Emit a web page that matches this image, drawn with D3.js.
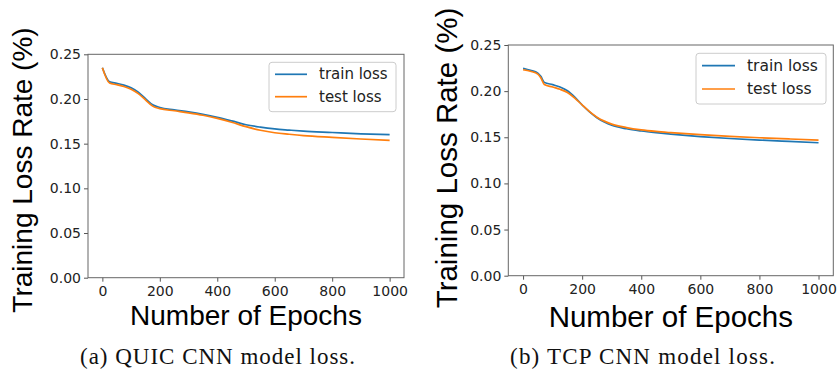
<!DOCTYPE html>
<html>
<head>
<meta charset="utf-8">
<script src="https://cdn.jsdelivr.net/npm/d3@7"></script>
<style>
  html, body { margin: 0; padding: 0; background: #fff; }
  svg { display: block; }
</style>
</head>
<body>
<svg id="chart" width="838" height="372"></svg>
<script>
// ---------- DATA ----------
const yTicks = [0, 0.05, 0.10, 0.15, 0.20, 0.25];
const xTicks = [0, 200, 400, 600, 800, 1000];
const seriesNames = ["train loss", "test loss"];

const quicEpochs = [0, 25, 50, 75, 100, 125, 150, 175, 200, 250, 300, 350, 400, 450, 500, 550, 600, 650, 700, 800, 900, 1000];
const quicTrain  = [0.2350, 0.2193, 0.2175, 0.2155, 0.2125, 0.2075, 0.2005, 0.1935, 0.1905, 0.1878, 0.1855, 0.1828, 0.1795, 0.1755, 0.1712, 0.1685, 0.1665, 0.1652, 0.1640, 0.1625, 0.1610, 0.1600];
const quicTest   = [0.2350, 0.2178, 0.2160, 0.2140, 0.2110, 0.2060, 0.1990, 0.1920, 0.1892, 0.1868, 0.1845, 0.1818, 0.1783, 0.1740, 0.1690, 0.1650, 0.1622, 0.1605, 0.1590, 0.1570, 0.1552, 0.1537];

const tcpEpochs = [0, 25, 50, 60, 72, 100, 125, 150, 175, 200, 225, 250, 275, 300, 350, 400, 450, 500, 600, 700, 800, 900, 1000];
const tcpTrain  = [0.2247, 0.2225, 0.2195, 0.2160, 0.2095, 0.2070, 0.2045, 0.2005, 0.1935, 0.1850, 0.1775, 0.1712, 0.1665, 0.1630, 0.1592, 0.1568, 0.1550, 0.1535, 0.1508, 0.1487, 0.1470, 0.1455, 0.1441];
const tcpTest   = [0.2232, 0.2215, 0.2185, 0.2145, 0.2072, 0.2045, 0.2020, 0.1985, 0.1925, 0.1850, 0.1778, 0.1718, 0.1675, 0.1643, 0.1605, 0.1580, 0.1563, 0.1550, 0.1528, 0.1510, 0.1495, 0.1482, 0.1470];

const captions = ["(a) QUIC CNN model loss.", "(b) TCP CNN model loss."];
const yTitle = "Training Loss Rate (%)";
const xTitle = "Number of Epochs";

// ---------- DRAW ----------
const colors = ["#1f77b4", "#ff7f0e"];
const svg = d3.select("#chart");

function drawPanel(p) {
  const x = d3.scaleLinear().domain([-50, 1050]).range([p.left, p.right]);
  const y = d3.scaleLinear().domain([0, 0.25]).range([p.bottom, p.top]);
  const g = svg.append("g");

  // lines
  const line = d3.line()
    .x(d => x(d[0])).y(d => y(d[1]))
    .curve(d3.curveMonotoneX);
  [p.train, p.test].forEach((vals, i) => {
    g.append("path")
      .datum(p.epochs.map((e, j) => [e, vals[j]]))
      .attr("fill", "none")
      .attr("stroke", colors[i])
      .attr("stroke-width", 1.7)
      .attr("d", line);
  });

  // axes
  const yAxis = g.append("g").attr("transform", `translate(${p.left},0)`)
    .call(d3.axisLeft(y).tickValues(yTicks).tickFormat(d3.format(".2f")).tickSize(4).tickPadding(3));
  const xAxis = g.append("g").attr("transform", `translate(0,${p.bottom})`)
    .call(d3.axisBottom(x).tickValues(xTicks).tickFormat(d3.format("d")).tickSize(4).tickPadding(4));
  [yAxis, xAxis].forEach(a => {
    a.select(".domain").remove();
    a.selectAll("line").attr("stroke", "#555");
    a.selectAll("text").attr("fill", "#222")
      .style("font-family", "'DejaVu Sans', sans-serif").style("font-size", "14px");
  });

  // frame
  g.append("rect")
    .attr("x", p.left).attr("y", p.top)
    .attr("width", p.right - p.left).attr("height", p.bottom - p.top)
    .attr("fill", "none").attr("stroke", "#666").attr("stroke-width", 1);

  // legend
  const lg = g.append("g");
  lg.append("rect")
    .attr("x", p.lgX).attr("y", p.lgY).attr("width", p.lgW).attr("height", p.lgH)
    .attr("rx", 3).attr("fill", "#fff").attr("fill-opacity", 0.8)
    .attr("stroke", "#cccccc").attr("stroke-width", 1);
  seriesNames.forEach((name, i) => {
    const yy = p.lgY + p.rowOff + i * p.rowGap;
    lg.append("line")
      .attr("x1", p.lgX + 6).attr("x2", p.lgX + 6 + p.lineLen)
      .attr("y1", yy).attr("y2", yy)
      .attr("stroke", colors[i]).attr("stroke-width", 1.7);
    lg.append("text")
      .attr("x", p.lgX + p.textOff).attr("y", yy)
      .attr("dominant-baseline", "central")
      .style("font-family", "'DejaVu Sans', sans-serif")
      .style("font-size", p.lgFont + "px")
      .attr("fill", "#222")
      .text(name);
  });

  // axis titles
  g.append("text")
    .attr("transform", `translate(${p.yTitleX},${p.yTitleY}) rotate(-90)`)
    .attr("text-anchor", "middle")
    .style("font-family", "'Liberation Sans', Arial, sans-serif")
    .style("font-size", p.titleFont + "px")
    .attr("fill", "#000")
    .text(yTitle);
  g.append("text")
    .attr("x", (p.left + p.right) / 2).attr("y", p.xTitleY)
    .attr("text-anchor", "middle")
    .style("font-family", "'Liberation Sans', Arial, sans-serif")
    .style("font-size", p.titleFont + "px")
    .attr("fill", "#000")
    .text(xTitle);

  // caption
  g.append("text")
    .attr("x", p.capX).attr("y", 364)
    .attr("textLength", p.capW).attr("lengthAdjust", "spacing")
    .style("font-family", "'Liberation Serif', 'Times New Roman', serif")
    .style("font-size", "23px")
    .attr("fill", "#111")
    .text(p.caption);
}

drawPanel({
  left: 88, right: 404, top: 54.3, bottom: 277.7,
  epochs: quicEpochs, train: quicTrain, test: quicTest,
  lgX: 269, lgY: 62.3, lgW: 127, lgH: 49.4, rowOff: 12, rowGap: 22.4, lineLen: 32, textOff: 50, lgFont: 15,
  yTitleX: 32, yTitleY: 170, xTitleY: 325, titleFont: 28,
  capX: 80, capW: 275, caption: captions[0]
});

drawPanel({
  left: 508.3, right: 833.3, top: 45, bottom: 275.7,
  epochs: tcpEpochs, train: tcpTrain, test: tcpTest,
  lgX: 696, lgY: 53.3, lgW: 130, lgH: 50.7, rowOff: 12.4, rowGap: 23.3, lineLen: 33, textOff: 51, lgFont: 15.5,
  yTitleX: 457, yTitleY: 158, xTitleY: 326.7, titleFont: 29.5,
  capX: 510, capW: 265, caption: captions[1]
});
</script>
</body>
</html>
